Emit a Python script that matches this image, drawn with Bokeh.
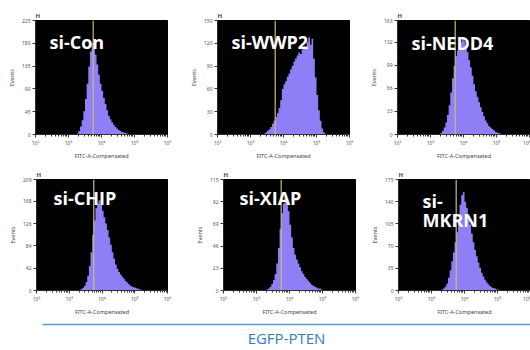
from bokeh.plotting import figure
from bokeh.models import Range1d, FixedTicker, Span, Label, ColumnDataSource
from bokeh.layouts import row, column
from bokeh.embed import file_html
from bokeh.resources import INLINE

# ---------------- data ----------------
names = ["si-Con", "si-WWP2", "si-NEDD4", "si-CHIP", "si-XIAP", "si-\nMKRN1"]
y_max = [225, 150, 163, 209, 115, 175]
y_ticks = [
    [0, 45, 90, 135, 180, 225],
    [0, 30, 60, 90, 120, 150],
    [0, 33, 66, 99, 132, 163],
    [0, 42, 84, 126, 168, 209],
    [0, 23, 46, 69, 92, 115],
    [0, 35, 70, 105, 140, 175],
]
x_tick_values = [1e2, 1e3, 1e4, 1e5, 1e6]
x_tick_labels = ["10\u00b2", "10\u00b3", "10\u2074", "10\u2075", "10\u2076"]
gate_value = 5600
bin_width_log = 0.05
hist_start_log = [3.25, 3.40, 3.30, 3.30, 3.30, 3.30]

counts_con = [2, 7, 16, 28, 46, 70, 100, 134, 164, 180, 172, 158, 138, 118, 100,
              86, 72, 60, 48, 37, 30, 24, 19, 15, 12, 9, 7, 5, 4, 3, 2, 1]
counts_wwp2 = [1, 3, 5, 7, 10, 14, 18, 23, 28, 35, 45, 60, 66, 70, 76, 80, 86, 90,
               96, 100, 104, 108, 106, 112, 116, 114, 122, 128, 118, 126, 100, 75,
               52, 32, 18, 8, 3, 1]
counts_nedd4 = [2, 5, 10, 17, 28, 42, 60, 80, 98, 112, 120, 126, 132, 138, 134, 128,
                118, 106, 96, 84, 72, 62, 54, 46, 39, 32, 26, 20, 16, 12, 10, 8, 6,
                4, 3, 2, 1]
counts_chip = [1, 3, 5, 9, 16, 28, 46, 72, 105, 132, 155, 164, 170, 162, 150, 138,
               126, 114, 100, 86, 72, 60, 49, 41, 35, 30, 26, 22, 18, 15, 12, 9, 7,
               6, 5, 4, 3, 2, 1]
counts_xiap = [1, 2, 4, 7, 11, 17, 28, 44, 64, 80, 90, 99, 94, 82, 68, 55, 44, 37,
               32, 28, 24, 20, 17, 14, 12, 10, 8, 6, 5, 4, 3, 2, 2, 1]
counts_mkrn1 = [1, 3, 6, 11, 20, 32, 46, 60, 76, 92, 112, 135, 150, 155, 140, 130,
                118, 104, 90, 76, 64, 54, 44, 36, 28, 22, 17, 13, 10, 7, 5, 4, 3, 2, 1]
all_counts = [counts_con, counts_wwp2, counts_nedd4, counts_chip, counts_xiap, counts_mkrn1]

# ---------------- layout (pixel geometry, page margin is 0 in bokeh's template) ----
# (width, height, border_left, border_right, border_top, border_bottom, x_max_log)
geom = [
    (180, 162, 35, 13, 20, 24, 6.0),
    (182, 162, 37, 13, 20, 24, 6.0),
    (168, 162, 35, 0, 20, 24, 2 + 133 / 33.0),
    (180, 156, 36, 13, 17, 22, 6.0),
    (186, 156, 43, 11, 17, 22, 6.0),
    (164, 156, 32, 0, 17, 22, 2 + 132 / 33.0),
]
# label offsets in px from frame left / frame top (baseline)
label_off = [(14, 22), (14, 22), (14, 23), (17, 19), (16, 19), (24, 23)]

HIST_COLOR = "#8f7ff7"
GATE_COLOR = "#cfbb72"
minor = [k * 10 ** d for d in range(2, 6) for k in range(2, 10)]


def make_panel(i):
    w, h, bl, br, bt, bb, xhi = geom[i]
    p = figure(width=w, height=h, min_border_left=bl, min_border_right=br,
               min_border_top=bt, min_border_bottom=bb,
               x_axis_type="log", x_range=Range1d(1e2, 10 ** xhi),
               y_range=Range1d(0, y_max[i]),
               output_backend="svg", toolbar_location=None, title="H",
               background_fill_color="black", border_fill_color="white")
    p.outline_line_color = "black"
    p.grid.visible = False
    p.title.text_font_size = "6px"
    p.title.text_font_style = "bold"
    p.title.text_font = "Noto Sans"
    p.title.align = "left"
    p.title.standoff = 2

    n = len(all_counts[i])
    lo = [hist_start_log[i] + k * bin_width_log for k in range(n + 1)]
    src = ColumnDataSource(dict(
        x=[10 ** v for v in lo],
        y=list(all_counts[i]) + [0],
    ))
    p.varea_step(x="x", y1=0, y2="y", step_mode="after", source=src,
                 fill_color=HIST_COLOR)
    p.add_layout(Span(location=gate_value, dimension="height",
                      line_color=GATE_COLOR, line_width=1.2))

    for ax in p.axis:
        ax.axis_line_color = "#333333"
        ax.axis_line_width = 0.8
        ax.major_tick_line_color = "#333333"
        ax.major_tick_out = 3
        ax.major_tick_in = 0
        ax.minor_tick_out = 2
        ax.minor_tick_in = 0
        ax.major_label_text_font = "Noto Sans"
        ax.major_label_text_font_size = "5px"
        ax.major_label_text_color = "#555555"
        ax.major_label_standoff = 2
        ax.axis_label_text_font = "Noto Sans"
        ax.axis_label_text_font_size = "5.5px"
        ax.axis_label_text_font_style = "normal"
        ax.axis_label_text_color = "#444444"
        ax.axis_label_standoff = 3

    xa = p.xaxis[0]
    xa.ticker = FixedTicker(ticks=x_tick_values, minor_ticks=minor)
    xa.major_label_overrides = {v: t for v, t in zip(x_tick_values, x_tick_labels)}
    xa.axis_label = "FITC-A-Compensated"
    xa.minor_tick_line_color = "#333333"

    ya = p.yaxis[0]
    ya.ticker = FixedTicker(ticks=y_ticks[i])
    ya.minor_tick_line_color = None
    ya.axis_label = "Events"

    # panel name inside the frame
    fw = w - bl - br
    fh = h - bt - bb
    ox, oy = label_off[i]
    for j, line in enumerate(names[i].split("\n")):
        lx = 10 ** (2 + ox / fw * (xhi - 2))
        ly = y_max[i] * (1 - (oy + 20 * j) / fh)
        p.add_layout(Label(x=lx, y=ly, text=line, text_color="white",
                           text_font="Open Sans", text_font_style="bold",
                           text_font_size="18px", text_baseline="alphabetic"))
    return p


panels = [make_panel(i) for i in range(6)]

# bottom arrow line + label
fb = figure(width=530, height=32, min_border_left=42, min_border_right=0,
            min_border_top=0, min_border_bottom=23,
            x_range=Range1d(0, 1), y_range=Range1d(0, 1),
            output_backend="svg", toolbar_location=None, y_axis_location=None)
fb.outline_line_color = None
fb.grid.visible = False
xb = fb.xaxis[0]
xb.ticker = FixedTicker(ticks=[])
xb.major_label_text_font_size = "0px"
xb.major_label_standoff = 0
xb.major_tick_out = 0
xb.major_tick_in = 0
xb.minor_tick_out = 0
xb.minor_tick_in = 0
xb.major_tick_line_color = None
xb.minor_tick_line_color = None
xb.axis_line_color = "#5b9bd5"
xb.axis_line_width = 1.5
xb.axis_label = "EGFP-PTEN"
xb.axis_label_text_font = "Open Sans"
xb.axis_label_text_font_size = "15px"
xb.axis_label_text_font_style = "normal"
xb.axis_label_text_color = "#2e7dbf"
xb.axis_label_standoff = 3

layout = column(row(*panels[:3]), row(*panels[3:]), fb)

open("out.html", "w").write(file_html(layout, INLINE))
